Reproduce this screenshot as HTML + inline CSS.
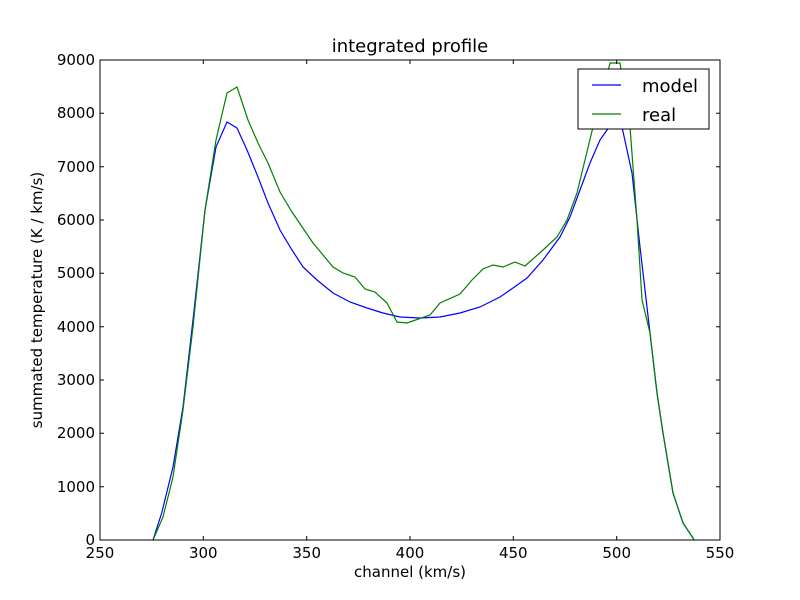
<!DOCTYPE html>
<html><head><style>body{margin:0;background:#fff}svg{display:block}</style></head><body>
<svg width="800" height="600" viewBox="0 0 800 600" font-family="DejaVu Sans, Liberation Sans, sans-serif">
<rect width="800" height="600" fill="#fff"/>
<defs><clipPath id="c"><rect x="100" y="60" width="620" height="480"/></clipPath></defs>
<g clip-path="url(#c)" fill="none" stroke-width="1.2">
<polyline stroke="#0000ff" points="153,540 161.7,513 173,467 183,407 193,320 205,210 216,147 227,122 237,128 247,150 258,177 268,203 280,230 292,250 303,267 317,280 333,293 350,302 367,308 383,313 400,317 420,318 440,317 460,313 480,307 500,297 513,288 527,278 543,260 560,237 570,217 580,190 590,163 600,140 607,130 614,120 622,127 632,173 640,247 650,333 657,393 663,433 673,493 683,523 693,538 694,540"/>
<polyline stroke="#008000" points="153,540 163,517 173,477 183,410 193,327 205,210 216,140 227,93 237,87 248,120 258,143 268,163 280,192 292,212 313,243 333,267 343,273 355,277 365,289 375,292 387,303 397,322 407,323 430,315 440,303 460,294 472,280 483,269 493,265 503,267 515,262 525,266 543,250 557,237 567,220 577,193 585,160 593,127 602,95 610,63 620,63 630,127 637,220 642,300 650,333 657,393 663,433 673,493 683,523 693,538 694,540"/>
</g>
<rect x="100" y="60" width="620" height="480" fill="none" stroke="#000" stroke-width="1"/>
<g stroke="#000" stroke-width="1">
<path d="M100,540v-4M100,60v4M203.3,540v-4M203.3,60v4M306.7,540v-4M306.7,60v4M410,540v-4M410,60v4M513.3,540v-4M513.3,60v4M616.7,540v-4M616.7,60v4M720,540v-4M720,60v4"/>
<path d="M100,540h4M720,540h-4M100,486.7h4M720,486.7h-4M100,433.3h4M720,433.3h-4M100,380h4M720,380h-4M100,326.7h4M720,326.7h-4M100,273.3h4M720,273.3h-4M100,220h4M720,220h-4M100,166.7h4M720,166.7h-4M100,113.3h4M720,113.3h-4M100,60h4M720,60h-4"/>
</g>
<g font-size="15" text-anchor="middle" fill="#000">
<text x="100" y="558">250</text><text x="203.3" y="558">300</text><text x="306.7" y="558">350</text><text x="410" y="558">400</text><text x="513.3" y="558">450</text><text x="616.7" y="558">500</text><text x="720" y="558">550</text>
</g>
<g font-size="15" text-anchor="end" fill="#000">
<text x="95" y="545">0</text><text x="95" y="492">1000</text><text x="95" y="438">2000</text><text x="95" y="385">3000</text><text x="95" y="332">4000</text><text x="95" y="278">5000</text><text x="95" y="225">6000</text><text x="95" y="172">7000</text><text x="95" y="118">8000</text><text x="95" y="65">9000</text>
</g>
<text x="410" y="52" font-size="18" text-anchor="middle">integrated profile</text>
<text x="410" y="577" font-size="15" text-anchor="middle">channel (km/s)</text>
<text x="42" y="300" font-size="15" text-anchor="middle" transform="rotate(-90 42 300)">summated temperature (K / km/s)</text>
<rect x="578" y="69" width="131" height="60" fill="#fff" stroke="#000"/>
<line x1="592" y1="85" x2="621" y2="85" stroke="#0000ff" stroke-width="1.2"/>
<line x1="592" y1="114" x2="621" y2="114" stroke="#008000" stroke-width="1.2"/>
<text x="642" y="92" font-size="18">model</text>
<text x="642" y="121" font-size="18">real</text>
</svg>
</body></html>
